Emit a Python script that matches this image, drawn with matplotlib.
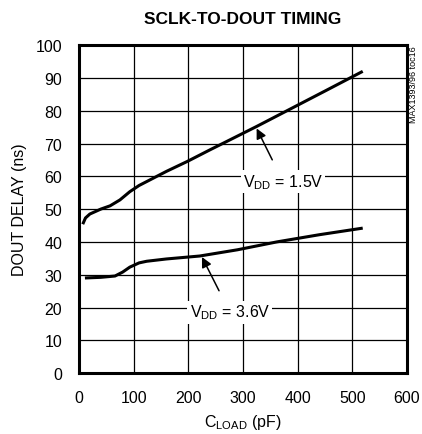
import matplotlib.pyplot as plt
import numpy as np

plt.rcParams['font.family'] = ['Liberation Sans', 'DejaVu Sans']

# VDD = 1.5V curve
cload_15 = [7, 12, 20, 40, 57, 75, 93, 110, 124, 160, 199, 240, 270, 325, 391, 450, 519]
delay_15 = [45.4, 47.3, 48.5, 50.0, 51.0, 52.8, 55.3, 57.2, 58.4, 61.5, 64.6, 68.1, 70.6, 75.2, 80.9, 86.0, 92.0]

# VDD = 3.6V curve
cload_36 = [11, 40, 66, 80, 93, 110, 124, 160, 221, 290, 362, 440, 519]
delay_36 = [29.0, 29.2, 29.6, 30.8, 32.3, 33.6, 34.1, 34.8, 35.7, 37.6, 40.0, 42.2, 44.2]

x_ticks = [0, 100, 200, 300, 400, 500, 600]
y_ticks = [0, 10, 20, 30, 40, 50, 60, 70, 80, 90, 100]

fig = plt.figure(figsize=(4.22, 4.35), dpi=100)
ax = fig.add_axes([0.187, 0.140, 0.7775, 0.754])

ax.plot(cload_15, delay_15, color='black', lw=2.2, solid_capstyle='butt')
ax.plot(cload_36, delay_36, color='black', lw=2.2, solid_capstyle='butt')

ax.set_xlim(0, 600)
ax.set_ylim(0, 100)
ax.set_xticks(x_ticks)
ax.set_yticks(y_ticks)
ax.grid(True, color='black', lw=0.9)
ax.tick_params(axis='y', length=0, labelsize=11.5, pad=12)
ax.tick_params(axis='x', length=0, labelsize=11.5, pad=12)
for s in ax.spines.values():
    s.set_linewidth(2.2)

ax.set_xlabel('C$_{\\mathregular{LOAD}}$ (pF)', fontsize=11.5, labelpad=5)
ax.set_ylabel('DOUT DELAY (ns)', fontsize=11.5, labelpad=6)
ax.set_title('SCLK-TO-DOUT TIMING', fontsize=12.5, fontweight='bold', pad=16)

box = dict(facecolor='white', edgecolor='none', pad=1.5)
ax.annotate('V$_{\\mathregular{DD}}$ = 1.5V', xy=(325, 74.6), xytext=(373, 58.5),
            fontsize=11.5, ha='center', va='center', bbox=box,
            arrowprops=dict(arrowstyle='-|>', color='black', lw=1.1,
                            mutation_scale=15, shrinkA=8, shrinkB=0))
ax.annotate('V$_{\\mathregular{DD}}$ = 3.6V', xy=(225, 35.4), xytext=(276, 18.6),
            fontsize=11.5, ha='center', va='center', bbox=box,
            arrowprops=dict(arrowstyle='-|>', color='black', lw=1.1,
                            mutation_scale=15, shrinkA=8, shrinkB=0))

fig.text(0.981, 0.893, 'MAX1393/96 toc16', rotation=90, fontsize=6.5,
         ha='center', va='top')

fig.savefig('out.png', dpi=100)
